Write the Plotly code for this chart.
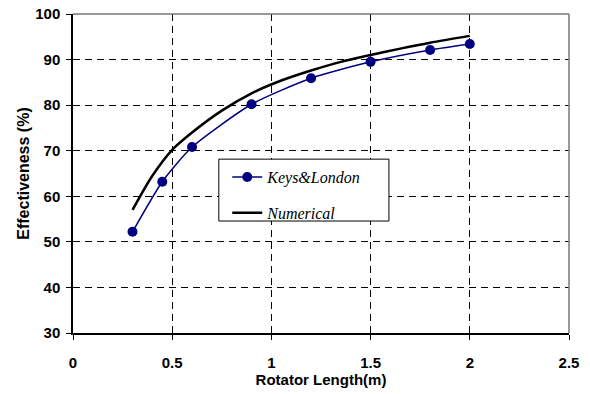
import plotly.graph_objects as go

keys_x = [0.3, 0.45, 0.6, 0.9, 1.2, 1.5, 1.8, 2.0]
keys_y = [52.2, 63.2, 70.8, 80.2, 85.9, 89.5, 92.1, 93.4]

num_x = [0.3, 0.4, 0.5, 0.6, 0.75, 0.9, 1.05, 1.2, 1.35, 1.5, 1.65, 1.8, 2.0]
num_y = [57.0, 64.5, 70.2, 74.0, 78.8, 82.6, 85.4, 87.6, 89.5, 91.0, 92.4, 93.7, 95.2]

x_ticks = [0, 0.5, 1, 1.5, 2, 2.5]
x_tick_labels = ["0", "0.5", "1", "1.5", "2", "2.5"]
y_ticks = [30, 40, 50, 60, 70, 80, 90, 100]

fig = go.Figure()
fig.add_trace(go.Scatter(
    x=keys_x, y=keys_y, mode="lines+markers", name="Keys&London", legendgroup="a",
    line=dict(color="#000080", width=1.5, shape="spline", smoothing=0.6),
    marker=dict(color="#000080", size=10, symbol="circle"),
))
fig.add_trace(go.Scatter(
    x=num_x, y=num_y, mode="lines", name="Numerical", legendgroup="b",
    line=dict(color="black", width=2.5, shape="spline", smoothing=0.8),
))

axis_font = dict(family="Liberation Sans, Arial", size=15, color="black", weight="bold")

fig.update_layout(
    width=590, height=394,
    margin=dict(l=73, r=21, t=14, b=61, autoexpand=False),
    paper_bgcolor="white", plot_bgcolor="white",
    showlegend=True,
    legend=dict(
        x=0.311, y=0.542, xanchor="left", yanchor="top",
        bgcolor="rgba(0,0,0,0)", borderwidth=0,
        font=dict(family="Liberation Serif, Times New Roman", size=16, color="black", style="italic"),
        itemwidth=30, tracegroupgap=12, traceorder="grouped",
    ),
    xaxis=dict(
        range=[0, 2.5], tickvals=x_ticks, ticktext=x_tick_labels, automargin=False,
        showgrid=True, gridcolor="black", gridwidth=1, griddash="7px,5px",
        zeroline=False, showline=True, linecolor="black", linewidth=1.5,
        ticks="outside", ticklen=5, tickcolor="black", ticklabelstandoff=10,
        tickfont=axis_font,
        title=dict(text="Rotator Length(m)", font=dict(family="Liberation Sans, Arial", size=15, color="black", weight="bold"), standoff=2),
    ),
    yaxis=dict(
        range=[30, 100], tickvals=y_ticks, automargin=False,
        showgrid=True, gridcolor="black", gridwidth=1, griddash="7px,5px",
        zeroline=False, showline=True, linecolor="black", linewidth=1.5,
        ticks="outside", ticklen=5, tickcolor="black", ticklabelstandoff=3,
        tickfont=axis_font,
        title=dict(text="Effectiveness (%)", font=dict(family="Liberation Sans, Arial", size=16, color="black", weight="bold"), standoff=2),
    ),
    shapes=[
        dict(type="line", xref="paper", yref="paper", x0=0, x1=1, y0=1, y1=1, line=dict(color="#777777", width=1.5)),
        dict(type="line", xref="paper", yref="paper", x0=1, x1=1, y0=0, y1=1, line=dict(color="#777777", width=1.5)),
        dict(type="rect", xref="paper", yref="paper", x0=0.294, x1=0.637, y0=0.351, y1=0.545,
             fillcolor="white", line=dict(color="black", width=1), layer="above"),
    ],
)

fig.write_html("out.html", config={"displayModeBar": False},
               post_script="document.body.style.margin='0';document.body.style.overflow='hidden';")
